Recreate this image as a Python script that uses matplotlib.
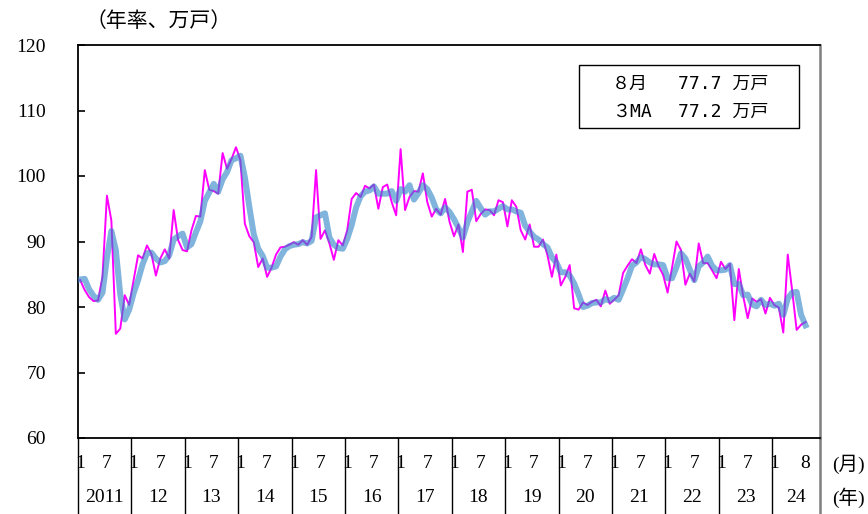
import matplotlib.pyplot as plt
import matplotlib.transforms as mtransforms

plt.rcParams['font.family'] = ['Liberation Serif', 'Noto Sans CJK JP']

# 新設住宅着工戸数 (季節調整済年率、万戸) 2011年1月～2024年8月
monthly = [
    84.1, 82.6, 81.5, 80.9, 81.0, 84.6, 97.0, 93.2, 75.9, 76.7, 81.8, 80.3,   # 2011
    84.1, 87.9, 87.4, 89.4, 88.1, 84.8, 87.4, 88.8, 87.4, 94.8, 90.2, 88.7,   # 12
    88.5, 91.7, 93.9, 93.8, 100.9, 97.9, 97.7, 97.3, 103.5, 101.1, 102.6, 104.4,  # 13
    102.4, 92.7, 90.8, 89.9, 86.1, 87.4, 84.6, 86.0, 88.0, 89.1, 89.2, 89.5,  # 14
    89.9, 89.5, 90.2, 89.5, 90.7, 100.9, 90.4, 91.7, 89.7, 87.2, 90.2, 89.4,  # 15
    91.7, 96.5, 97.4, 96.8, 98.5, 98.1, 98.7, 95.0, 98.3, 98.7, 96.0, 94.0,   # 16
    104.1, 94.8, 96.8, 97.7, 97.6, 100.4, 96.0, 93.8, 95.0, 94.1, 96.5, 93.0,  # 17
    90.8, 92.6, 88.4, 97.6, 97.9, 93.1, 94.2, 94.9, 94.8, 94.0, 96.3, 96.0,   # 18
    92.3, 96.3, 95.3, 91.7, 90.3, 92.6, 89.2, 89.2, 90.3, 87.9, 84.6, 88.0,   # 19
    83.3, 84.6, 86.4, 79.8, 79.6, 80.7, 80.3, 80.8, 81.1, 80.1, 82.5, 80.5,   # 20
    81.1, 81.8, 85.2, 86.3, 87.3, 86.7, 88.8, 86.4, 85.1, 88.1, 86.2, 84.9,   # 21
    82.2, 86.0, 90.0, 88.7, 83.4, 85.1, 83.9, 89.7, 86.7, 86.7, 85.6, 84.4,   # 22
    86.9, 85.8, 86.6, 78.0, 85.8, 81.6, 78.3, 81.3, 80.8, 81.2, 79.0, 81.4,   # 23
    80.3, 79.9, 76.1, 88.0, 82.5, 76.5, 77.3, 77.7,                           # 24
]

# 3ヶ月移動平均
ma3 = [
    84.2, 84.3, 82.7, 81.7, 81.1, 82.2, 87.5, 91.6, 88.7, 81.9, 78.1, 79.6,
    82.1, 84.1, 86.5, 88.2, 88.3, 87.4, 86.8, 87.0, 87.9, 90.3, 90.8, 91.2,
    89.1, 89.6, 91.4, 93.1, 96.2, 97.5, 98.8, 97.6, 99.5, 100.6, 102.4, 102.7,
    103.1, 99.8, 95.3, 91.1, 88.9, 87.8, 86.0, 86.0, 86.2, 87.7, 88.8, 89.3,
    89.5, 89.6, 89.9, 89.7, 90.1, 93.7, 94.0, 94.3, 90.6, 89.5, 89.0, 88.9,
    90.4, 92.5, 95.2, 96.9, 97.6, 97.8, 98.4, 97.3, 97.3, 97.3, 97.7, 96.2,
    98.0, 97.6, 98.6, 96.4, 97.4, 98.6, 98.0, 96.7, 94.9, 94.3, 95.2, 94.5,
    93.4, 92.1, 90.6, 92.9, 94.6, 96.2, 95.1, 94.1, 94.6, 94.6, 95.0, 95.4,
    94.9, 94.9, 94.6, 94.4, 92.4, 91.5, 90.7, 90.3, 89.6, 89.1, 87.6, 86.8,
    85.3, 85.3, 84.8, 83.6, 81.9, 80.0, 80.2, 80.6, 80.7, 80.7, 81.2, 81.0,
    81.4, 81.1, 82.7, 84.4, 86.3, 86.8, 87.6, 87.3, 86.8, 86.5, 86.5, 86.4,
    84.4, 84.4, 86.1, 88.2, 87.4, 85.7, 84.1, 86.2, 86.8, 87.7, 86.3, 85.6,
    85.6, 85.7, 86.4, 83.5, 83.5, 81.8, 81.9, 80.4, 80.1, 81.1, 80.3, 80.5,
    80.2, 80.5, 78.8, 81.3, 82.2, 82.3, 78.8, 77.2,
]

years = ['2011', '12', '13', '14', '15', '16', '17', '18', '19', '20', '21', '22', '23', '24']

fig = plt.figure(figsize=(8.68, 5.14), dpi=100)
ax = fig.add_axes([78 / 868, 1 - 438 / 514, 742 / 868, 393 / 514])

x = list(range(len(monthly)))
ax.plot(x, monthly, color='#ff00ff', lw=1.4, zorder=2)
ax.plot(x, ma3, color='#2b82c5', lw=4.3, alpha=0.6, zorder=3)

ax.set_xlim(-0.5, 166.25)
ax.set_ylim(60, 120)
ax.set_yticks(range(60, 121, 10))
ax.set_xticks([])
ax.tick_params(axis='y', direction='in', length=5, width=1.2, labelsize=14, pad=23)

for s in ['left', 'top', 'bottom']:
    ax.spines[s].set_linewidth(1.3)
    ax.spines[s].set_color('black')
ax.spines['right'].set_color('#7f7f7f')
ax.spines['right'].set_linewidth(1.8)

# 月・年ラベル
trans = mtransforms.blended_transform_factory(ax.transData, ax.transAxes)
ybot = -76 / 393
row1 = -(464 - 438) / 393
row2 = -(498 - 438) / 393
for k, yr in enumerate(years):
    start = 12 * k
    ax.plot([start - 0.5, start - 0.5], [0, ybot], color='black', lw=1.0,
            transform=trans, clip_on=False)
    ax.text(start, row1, '1', transform=trans, ha='center', va='center', fontsize=14)
    if yr == '24':
        ax.text(163, row1, '8', transform=trans, ha='center', va='center', fontsize=14)
        ax.text(160.8, row2, yr, transform=trans, ha='center', va='center', fontsize=14)
    else:
        ax.text(start + 6, row1, '7', transform=trans, ha='center', va='center', fontsize=14)
        ax.text(start + 5.5, row2, yr, transform=trans, ha='center', va='center', fontsize=14)
ax.plot([1, 1], [0, ybot], color='#7f7f7f', lw=1.8, transform=ax.transAxes, clip_on=False)

fig.text(848 / 868, 1 - 464 / 514, '(月)', ha='center', va='center', fontsize=14)
fig.text(848 / 868, 1 - 498 / 514, '(年)', ha='center', va='center', fontsize=14)
fig.text(86 / 868, 1 - 22 / 514, '（年率、万戸）', ha='left', va='center', fontsize=15)

# 最新値ボックス
bx0, bx1 = (579 - 78) / 742, (799 - 78) / 742
by0, by1 = (438 - 128) / 393, (438 - 65) / 393
box = plt.Rectangle((bx0, by0), bx1 - bx0, by1 - by0, transform=ax.transAxes,
                    facecolor='white', edgecolor='black', lw=1.0, zorder=5)
ax.add_patch(box)
gothic = ['DejaVu Sans Mono', 'Noto Sans CJK JP']
c1, c2 = (612 - 78) / 742, (678 - 78) / 742
r1, r2 = (438 - 83.5) / 393, (438 - 111.5) / 393
ax.text(c1, r1, '８月', transform=ax.transAxes, ha='left', va='center',
        fontsize=13, family=gothic, zorder=6)
ax.text(c2, r1, '77.7 万戸', transform=ax.transAxes, ha='left', va='center',
        fontsize=13, family=gothic, zorder=6)
ax.text(c1, r2, '３MA', transform=ax.transAxes, ha='left', va='center',
        fontsize=13, family=gothic, zorder=6)
ax.text(c2, r2, '77.2 万戸', transform=ax.transAxes, ha='left', va='center',
        fontsize=13, family=gothic, zorder=6)

fig.savefig('out.png', dpi=100)
